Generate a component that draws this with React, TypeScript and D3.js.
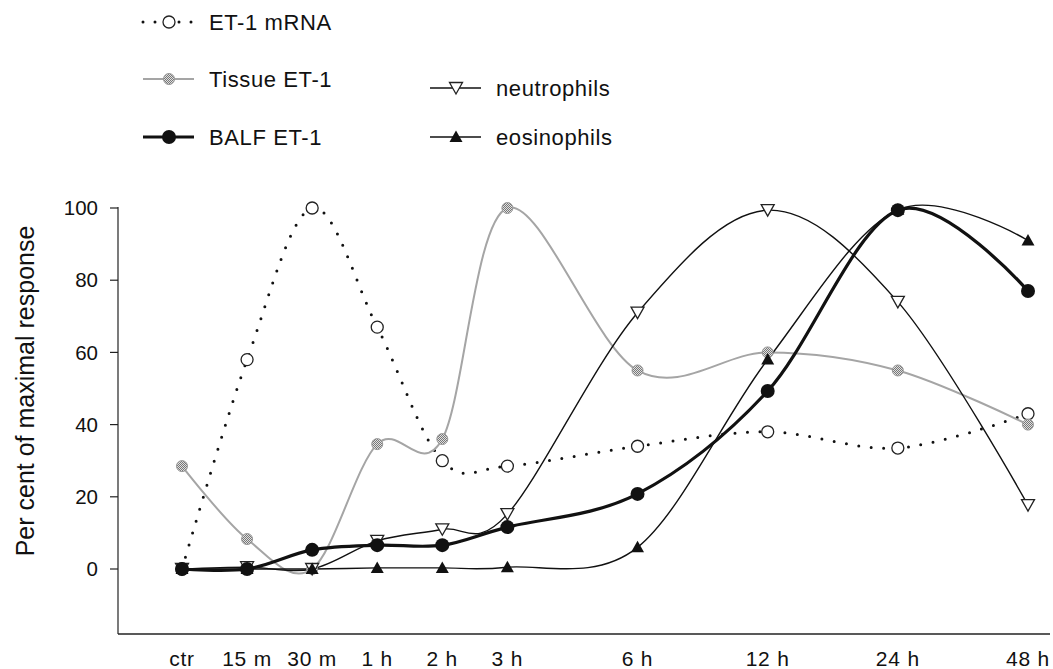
import React from "react";
import * as d3 from "d3";

const timeLabels = ["ctr", "15 m", "30 m", "1 h", "2 h", "3 h", "6 h", "12 h", "24 h", "48 h"];
const timePos = [0, 1, 2, 3, 4, 5, 7, 9, 11, 13];

const mrna = [0, 58, 100, 67, 30, 28.5, 34, 38, 33.5, 43];
const tissue = [28.5, 8.3, 0, 34.6, 36, 100, 55, 60, 55, 40];
const balf = [0, 0, 5.3, 6.6, 6.6, 11.6, 20.8, 49.3, 99.4, 77];
const neutrophils = [0, 0.5, 0, 7.8, 11, 15.2, 71, 99.4, 74, 17.7];
const eosinophils = [0, 0, 0, 0.3, 0.3, 0.5, 6, 58, 99.5, 91];

const yTicks = [0, 20, 40, 60, 80, 100];

const W = 1053;
const H = 669;
const FONT = "'Liberation Sans', Arial, sans-serif";

type Mk = "open" | "hatch" | "dot" | "down" | "up";

const Marker = ({ kind, x, y }: { kind: Mk; x: number; y: number }) => {
  if (kind === "open")
    return <circle cx={x} cy={y} r={6} fill="white" stroke="#222" strokeWidth={1.3} />;
  if (kind === "hatch")
    return <circle cx={x} cy={y} r={5.5} fill="url(#hatch)" stroke="#999" strokeWidth={1} />;
  if (kind === "dot") return <circle cx={x} cy={y} r={7} fill="#111" />;
  if (kind === "down")
    return (
      <path
        d={`M${x - 6.5},${y - 5.5}L${x + 6.5},${y - 5.5}L${x},${y + 6}Z`}
        fill="white"
        stroke="#222"
        strokeWidth={1.3}
      />
    );
  return <path d={`M${x - 6.5},${y + 5}L${x + 6.5},${y + 5}L${x},${y - 6.5}Z`} fill="#111" />;
};

const App = () => {
  const x = d3.scaleLinear().domain([0, 13]).range([182, 1028]);
  const y = d3.scaleLinear().domain([0, 100]).range([569, 208]);

  const line = d3
    .line<number>()
    .x((_, i) => x(timePos[i]))
    .y((d) => y(d))
    .curve(d3.curveCardinal.tension(0));

  const series = [
    { name: "mrna", values: mrna, mk: "open" as Mk, stroke: "#111", width: 3, dash: "0 12.5" },
    { name: "tissue", values: tissue, mk: "hatch" as Mk, stroke: "#a5a5a5", width: 2, dash: "" },
    { name: "neut", values: neutrophils, mk: "down" as Mk, stroke: "#111", width: 1.4, dash: "" },
    { name: "eos", values: eosinophils, mk: "up" as Mk, stroke: "#111", width: 1.4, dash: "" },
    { name: "balf", values: balf, mk: "dot" as Mk, stroke: "#111", width: 3.2, dash: "" },
  ];

  const legend = [
    { label: "ET-1 mRNA", mk: "open" as Mk, lx: 143, ly: 22, stroke: "#111", width: 3, dash: "0 12" },
    { label: "Tissue ET-1", mk: "hatch" as Mk, lx: 143, ly: 79, stroke: "#a5a5a5", width: 2, dash: "" },
    { label: "BALF ET-1", mk: "dot" as Mk, lx: 143, ly: 137, stroke: "#111", width: 3.2, dash: "" },
    { label: "neutrophils", mk: "down" as Mk, lx: 430, ly: 88, stroke: "#111", width: 1.4, dash: "" },
    { label: "eosinophils", mk: "up" as Mk, lx: 430, ly: 137, stroke: "#111", width: 1.4, dash: "" },
  ];

  return (
    <svg
      width={W}
      height={H}
      style={{ position: "absolute", left: 0, top: 0, background: "white" }}
      fontFamily={FONT}
    >
      <defs>
        <pattern id="hatch" width={2} height={2} patternUnits="userSpaceOnUse">
          <rect width={2} height={2} fill="#e0e0e0" />
          <rect width={1} height={1} fill="#777" />
          <rect x={1} y={1} width={1} height={1} fill="#777" />
        </pattern>
      </defs>

      {/* legend */}
      {legend.map((l) => (
        <g key={l.label}>
          <line
            x1={l.lx}
            x2={l.lx + 51}
            y1={l.ly}
            y2={l.ly}
            stroke={l.stroke}
            strokeWidth={l.width}
            strokeDasharray={l.dash || undefined}
            strokeLinecap={l.dash ? "round" : "butt"}
          />
          <Marker kind={l.mk} x={l.lx + 26} y={l.ly} />
          <text x={l.lx + 66} y={l.ly} dy="0.35em" fontSize={22} letterSpacing={0.6} fill="#111">
            {l.label}
          </text>
        </g>
      ))}

      {/* axes */}
      <line x1={118} x2={118} y1={207} y2={634} stroke="#222" strokeWidth={1.2} />
      <line x1={118} x2={1050} y1={634} y2={634} stroke="#222" strokeWidth={1.5} />
      {yTicks.map((t) => (
        <g key={t}>
          <line x1={110} x2={118} y1={y(t)} y2={y(t)} stroke="#222" strokeWidth={1.2} />
          <text x={98} y={y(t)} dy="0.35em" textAnchor="end" fontSize={20.5} fill="#111">
            {t}
          </text>
        </g>
      ))}
      {timeLabels.map((t, i) => (
        <text
          key={t}
          x={x(timePos[i])}
          y={666}
          textAnchor="middle"
          fontSize={21}
          letterSpacing={0.8}
          fill="#111"
        >
          {t}
        </text>
      ))}
      <text
        transform={`translate(25,391) rotate(-90)`}
        textAnchor="middle"
        dy="0.35em"
        fontSize={25}
        fill="#111"
      >
        Per cent of maximal response
      </text>

      {/* lines */}
      {series.map((s) => (
        <path
          key={s.name}
          d={line(s.values) || ""}
          fill="none"
          stroke={s.stroke}
          strokeWidth={s.width}
          strokeDasharray={s.dash || undefined}
          strokeLinecap={s.dash ? "round" : "butt"}
        />
      ))}
      {series.map((s) => (
        <g key={s.name + "-m"}>
          {s.values.map((v, i) => (
            <Marker key={i} kind={s.mk} x={x(timePos[i])} y={y(v)} />
          ))}
        </g>
      ))}
    </svg>
  );
};

export default App;
